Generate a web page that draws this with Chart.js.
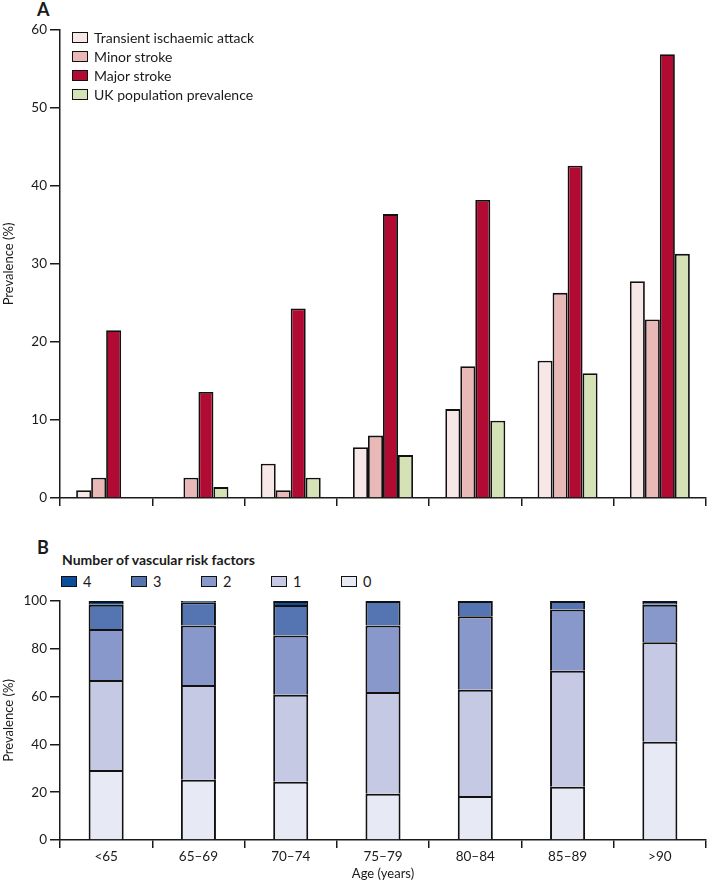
<!DOCTYPE html>
<html>
<head>
<meta charset="utf-8">
<script src="https://cdn.jsdelivr.net/npm/chart.js@4/dist/chart.umd.min.js"></script>
<style>
html,body{margin:0;padding:0;background:#fff;}
body{width:707px;height:884px;position:relative;overflow:hidden;font-family:Lato,"Open Sans",sans-serif;color:#1a1a1a;}
.wrap{position:absolute;left:0;width:707px;}
#wrapA{top:0;height:520px;}
#wrapB{top:540px;height:344px;}
.panelLabel{position:absolute;font-weight:bold;font-size:18px;line-height:18px;}
#legA{position:absolute;left:72px;top:28px;}
.row{display:flex;align-items:center;height:19px;font-size:14px;white-space:nowrap;}
.box{box-sizing:content-box;width:14px;height:8.5px;border:1.5px solid #111;margin-right:6px;}
#legBTitle{position:absolute;left:62px;top:552px;font-weight:bold;font-size:14px;line-height:16px;white-space:nowrap;}
#legB{position:absolute;left:61px;top:572px;display:flex;}
#legB .item{display:flex;align-items:center;width:70px;height:19px;font-size:14.5px;}
</style>
</head>
<body>
<div class="panelLabel" style="left:37px;top:0px;">A</div>
<div class="wrap" id="wrapA"><canvas id="chartA" width="707" height="520"></canvas></div>
<div id="legA"></div>
<div class="panelLabel" style="left:37px;top:538px;">B</div>
<div id="legBTitle">Number of vascular risk factors</div>
<div id="legB"></div>
<div class="wrap" id="wrapB"><canvas id="chartB" width="707" height="344"></canvas></div>
<script>
// ---- data ----
const ageGroups = ['<65', '65–69', '70–74', '75–79', '80–84', '85–89', '>90'];

const tiaValues          = [1.0, 0,    4.4,  6.5,  11.4, 17.6, 27.8];
const minorStrokeValues  = [2.6, 2.6,  1.0,  8.0,  16.9, 26.3, 22.9];
const majorStrokeValues  = [21.5, 13.6, 24.3, 36.4, 38.2, 42.6, 56.9];
const ukPrevalenceValues = [0,   1.4,  2.6,  5.5,  9.9,  16.0, 31.3];
const seriesLabelsA = ['Transient ischaemic attack', 'Minor stroke', 'Major stroke', 'UK population prevalence'];
const yTicksA = [0, 10, 20, 30, 40, 50, 60];

const riskFactors0 = [29.3, 25.2, 24.4, 19.4, 18.4, 22.3, 41.1];
const riskFactors1 = [37.6, 39.7, 36.4, 42.5, 44.5, 48.5, 41.6];
const riskFactors2 = [21.4, 24.8, 24.8, 27.8, 30.7, 25.6, 15.7];
const riskFactors3 = [10.1, 9.8,  12.7, 10.3, 6.4,  3.6,  1.6];
const riskFactors4 = [1.6,  0.5,  1.7,  0,    0,    0,    0];
const seriesLabelsB = ['0', '1', '2', '3', '4'];
const yTicksB = [0, 20, 40, 60, 80, 100];

// ---- styles ----
const coloursA = ['#f8e7e7', '#e8b9b7', '#b10b34', '#d4e2b5'];
const coloursB = ['#e7e9f5', '#c5c9e4', '#8898ca', '#5474b2', '#0b4f9c'];
const ink = '#1a1a1a';
const tickFont = {family: 'Lato', size: 13.5};

function yAxis(ticksArr, maxVal) {
  return {
    min: 0, max: maxVal,
    afterBuildTicks: s => { s.ticks = ticksArr.map(v => ({value: v})); },
    grid: {drawOnChartArea: false, drawTicks: true, tickLength: 10, color: ink, lineWidth: 1.5},
    border: {display: true, color: ink, width: 1.5},
    ticks: {font: tickFont, color: ink, padding: 3},
    title: {display: true, text: 'Prevalence (%)', font: {family: 'Lato', size: 13}, color: ink, padding: {top: 1, bottom: 0}},
    afterFit: s => { s.width = 60; }
  };
}

// ---- panel A ----
const valuesA = [tiaValues, minorStrokeValues, majorStrokeValues, ukPrevalenceValues];
const chartA = new Chart(document.getElementById('chartA'), {
  type: 'bar',
  data: {
    labels: ageGroups,
    datasets: valuesA.map((vals, i) => ({
      label: seriesLabelsA[i], data: vals,
      backgroundColor: coloursA[i], borderColor: '#111', borderWidth: 1.8,
      categoryPercentage: 0.65, barPercentage: 1
    }))
  },
  options: {
    responsive: false, animation: false,
    layout: {padding: {top: 30, left: 0, right: 1, bottom: 0}},
    plugins: {legend: {display: false}, tooltip: {enabled: false}},
    scales: {
      x: {
        offset: true,
        grid: {offset: true, drawOnChartArea: false, drawTicks: true, tickLength: 8, color: ink, lineWidth: 1.5},
        border: {display: true, color: ink, width: 1.5},
        ticks: {display: false},
        afterFit: s => { s.height = 22; }
      },
      y: yAxis(yTicksA, 60)
    }
  }
});

// ---- panel B ----
const valuesB = [riskFactors0, riskFactors1, riskFactors2, riskFactors3, riskFactors4];
const chartB = new Chart(document.getElementById('chartB'), {
  type: 'bar',
  data: {
    labels: ageGroups,
    datasets: valuesB.map((vals, i) => ({
      label: seriesLabelsB[i], data: vals,
      backgroundColor: coloursB[i], borderColor: '#111', borderWidth: 2,
      categoryPercentage: 0.38, barPercentage: 1
    }))
  },
  options: {
    responsive: false, animation: false,
    layout: {padding: {top: 61, left: 0, right: 1, bottom: 0}},
    plugins: {legend: {display: false}, tooltip: {enabled: false}},
    scales: {
      x: {
        stacked: true, offset: true,
        grid: {offset: true, drawOnChartArea: false, drawTicks: true, tickLength: 8, color: ink, lineWidth: 1.5},
        border: {display: true, color: ink, width: 1.5},
        ticks: {font: tickFont, color: ink, padding: 1, maxRotation: 0, autoSkip: false},
        title: {display: true, text: 'Age (years)', font: {family: 'Lato', size: 13}, color: ink, padding: {top: 2, bottom: 2}},
        afterFit: s => { s.height = 44; }
      },
      y: Object.assign(yAxis(yTicksB, 100), {stacked: true})
    }
  }
});

// ---- HTML legends built from the chart datasets ----
function makeBox(colour) {
  const b = document.createElement('span');
  b.className = 'box';
  b.style.background = colour;
  return b;
}
const legA = document.getElementById('legA');
chartA.data.datasets.forEach(ds => {
  const row = document.createElement('div');
  row.className = 'row';
  row.appendChild(makeBox(ds.backgroundColor));
  row.appendChild(document.createTextNode(ds.label));
  legA.appendChild(row);
});
const legB = document.getElementById('legB');
chartB.data.datasets.slice().reverse().forEach(ds => {
  const it = document.createElement('div');
  it.className = 'item';
  it.appendChild(makeBox(ds.backgroundColor));
  it.appendChild(document.createTextNode(ds.label));
  legB.appendChild(it);
});
</script>
</body>
</html>
